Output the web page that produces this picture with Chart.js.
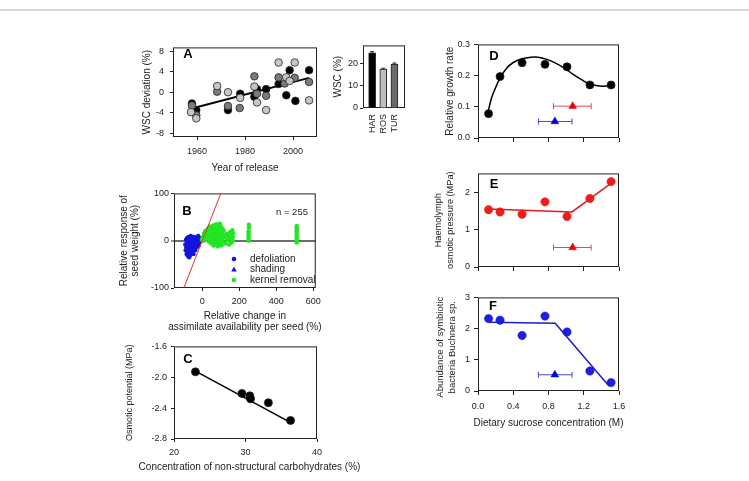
<!DOCTYPE html>
<html><head><meta charset="utf-8">
<script src="https://cdn.jsdelivr.net/npm/chart.js@4.4.1/dist/chart.umd.min.js"></script>
<style>
html,body{margin:0;padding:0;background:#fff;}
body{width:749px;height:481px;position:relative;overflow:hidden;font-family:"Liberation Sans",Arial,sans-serif;}
.topline{position:absolute;left:0;top:9px;width:749px;height:2px;background:#d8d8d8;}
canvas{position:absolute;}
</style></head><body>
<div class="topline"></div>
<canvas id="cA" width="200" height="142" style="left:128px;top:36px"></canvas>
<canvas id="cI" width="80" height="102" style="left:330px;top:38px"></canvas>
<canvas id="cB" width="222" height="150" style="left:104px;top:186px"></canvas>
<canvas id="cC" width="270" height="140" style="left:100px;top:337px"></canvas>
<canvas id="cD" width="203" height="113" style="left:425px;top:35px"></canvas>
<canvas id="cE" width="203" height="114" style="left:425px;top:164px"></canvas>
<canvas id="cF" width="230" height="142" style="left:425px;top:288px"></canvas>
<script>
// ---------------- DATA ----------------
// Panel A: WSC deviation (%) vs year of release, three groups
const aBlack = [[1957.9,-2.2],[1959.7,-3.5],[1972.9,-3.5],[1978.0,-0.3],[1983.9,-0.9],[1985.0,0.6],[1988.8,0.6],[1994.0,1.6],[1997.2,-0.6],[1998.6,4.3],[2001.0,-1.7],[2006.7,4.3]];
const aDark = [[1957.9,-2.6],[1959.7,-4.5],[1968.4,0.1],[1972.9,-2.7],[1977.8,-3.1],[1983.9,3.1],[1985.0,-0.3],[1988.8,-0.7],[1994.0,2.9],[1996.5,1.7],[2000.7,2.8],[2006.7,2.0]];
const aLight = [[1957.5,-3.9],[1959.7,-5.1],[1968.4,1.2],[1972.9,0.0],[1978.0,-1.1],[1983.9,1.1],[1985.0,-2.0],[1988.8,-3.5],[1994.0,5.8],[1997.2,2.9],[1998.6,2.2],[2000.7,5.8],[2006.7,-1.6]];
const aTrend = [[1958.6,-3.1],[2006.7,2.8]];
const aXTicks = [1960,1980,2000];
const aYTicks = [-8,-4,0,4,8];

// Inset: WSC (%) by cultivar
const cultivars = ['HAR','ROS','TUR'];
const wscMean = [24.7,17.4,19.7];
const wscSE = [0.5,0.4,0.4];
const wscTicks = [0,10,20];

// Panel B: relative response of seed weight vs change in assimilate availability
const defoliationPts = [[-92,-8],[-90,-20],[-88,2],[-86,-14],[-85,-28],[-83,-5],[-82,6],[-80,-18],[-79,-32],[-78,-10],[-76,0],[-75,-24],[-74,8],[-72,-15],[-71,-35],[-70,-4],[-68,-22],[-67,4],[-66,-12],[-65,-30],[-63,-7],[-62,10],[-60,-18],[-59,-2],[-58,-26],[-56,-10],[-55,5],[-54,-20],[-52,-14],[-50,0],[-48,-8],[-47,-28],[-45,-16],[-44,8],[-42,-4],[-40,-12],[-38,-20],[-36,2],[-35,-9],[-33,6],[-30,-14],[-28,-2],[-25,-6],[-22,10],[-20,-10],[-18,4],[-15,-4],[-12,6]];
const shadingPts = [[-60,-6],[-45,-12],[-30,2]];
const kernelRemovalPts = [[-2,2],[2,8],[5,0],[8,15],[12,5],[15,20],[18,10],[22,3],[25,18],[28,25],[30,8],[33,14],[36,-2],[38,22],[40,30],[42,6],[45,12],[48,-6],[50,26],[52,18],[55,2],[58,32],[60,-10],[60,10],[62,22],[65,-4],[66,15],[68,28],[70,5],[72,-8],[74,20],[75,35],[77,12],[78,-2],[80,25],[82,8],[84,-12],[85,18],[87,30],[88,3],[90,14],[92,-6],[93,24],[95,36],[96,10],[98,-2],[100,20],[100,30],[102,6],[104,-10],[105,16],[107,26],[108,0],[110,12],[112,-4],[115,22],[120,8],[125,-6],[130,15],[135,2],[140,10],[145,-8],[150,18],[155,4],[158,-4],[160,12],[162,22],[164,0],[165,8],[166,16],[250,0],[250,4],[250,8],[250,12],[250,16],[250,20],[252,28],[252,34],[510,-4],[510,0],[510,4],[510,8],[510,12],[510,16],[510,20],[510,24],[510,28],[510,31]];
const oneToOneLine = [[-100,-100],[100,100]];
const bXTicks = [0,200,400,600];
const bYTicks = [-100,0,100];

// Panel C: osmotic potential vs non-structural carbohydrates
const cPoints = [[23.0,-1.93],[29.5,-2.21],[30.6,-2.24],[30.7,-2.28],[33.2,-2.33],[36.3,-2.56]];
const cFit = [[23.0,-1.92],[36.4,-2.59]];
const cXTicks = [20,30,40];
const cYTicks = [-2.8,-2.4,-2.0,-1.6];

// Panels D-F: dietary sucrose concentration (M)
const sucrose = [0.12,0.25,0.5,0.76,1.01,1.27,1.51];
const growthRate = [0.078,0.197,0.241,0.236,0.228,0.170,0.170];
const growthCurve = [[0.114,0.082],[0.15,0.125],[0.19,0.155],[0.25,0.192],[0.32,0.222],[0.4,0.242],[0.5,0.254],[0.6,0.259],[0.68,0.259],[0.78,0.252],[0.88,0.24],[0.98,0.224],[1.08,0.204],[1.18,0.186],[1.26,0.174],[1.34,0.168],[1.42,0.166],[1.52,0.169]];
const haemolymph = [1.53,1.47,1.41,1.74,1.35,1.83,2.28];
const haemolymphFit = [[0.114,1.55],[1.067,1.47],[1.524,2.26]];
const buchnera = [2.32,2.27,1.78,2.40,1.89,0.64,0.27];
const buchneraFit = [[0.126,2.2],[0.876,2.17],[1.486,0.16]];
const redThreshold = [1.074,0.857,1.284];   // mean, low, high
const blueThreshold = [0.872,0.686,1.067];
const dRedY = 0.102, dBlueY = 0.053, eRedY = 0.52, fBlueY = 0.52;
const sucroseTicks = [0,0.4,0.8,1.2,1.6];

// ---------------- HELPERS ----------------
const FF = '"Liberation Sans", Arial, Helvetica, sans-serif';
Chart.defaults.font.family = FF;
Chart.defaults.color = '#222';
const xy = arr => arr.map(p => ({x: p[0], y: p[1]}));
const zipXY = (xs, ys) => xs.map((x, i) => ({x, y: ys[i]}));
const cv = id => document.getElementById(id);

function lin(o) {
  return {
    type: 'linear', min: o.min, max: o.max, offset: false,
    afterBuildTicks: sc => { sc.ticks = o.ticks.map(v => ({value: v})); },
    afterFit: sc => { if (sc.isHorizontal()) sc.height = o.size; else sc.width = o.size; },
    grid: {display: o.marks !== false, drawOnChartArea: false, drawTicks: true, tickLength: o.tl ?? 3,
           color: '#222', tickColor: '#222', lineWidth: 1, tickWidth: 1, offset: false},
    border: {display: false},
    ticks: {display: o.labels !== false, padding: o.pad ?? 4, autoSkip: false,
            maxRotation: o.rot || 0, minRotation: o.rot || 0, color: '#222',
            font: {size: 9}, callback: o.fmt || (v => String(v))},
    title: {display: false}
  };
}
function opts(pad, scales, deco) {
  return {responsive: false, animation: false, events: [], layout: {padding: pad}, scales,
          plugins: {legend: {display: false}, tooltip: {enabled: false}, deco: deco || {}}};
}
const deco = {
  id: 'deco',
  beforeDatasetsDraw(chart, args, o) {
    const {ctx, chartArea: a, scales} = chart;
    ctx.save();
    ctx.strokeStyle = '#222'; ctx.lineWidth = 1;
    ctx.strokeRect(a.left + 0.5, a.top + 0.5, a.right - a.left - 1, a.bottom - a.top - 1);
    (o.errX || []).forEach(e => {
      const x1 = scales.x.getPixelForValue(e.lo), x2 = scales.x.getPixelForValue(e.hi), y = scales.y.getPixelForValue(e.y);
      ctx.strokeStyle = e.color; ctx.lineWidth = 1;
      ctx.beginPath();
      ctx.moveTo(x1, y); ctx.lineTo(x2, y);
      ctx.moveTo(x1, y - 3); ctx.lineTo(x1, y + 3);
      ctx.moveTo(x2, y - 3); ctx.lineTo(x2, y + 3);
      ctx.stroke();
    });
    ctx.restore();
  },
  afterDatasetsDraw(chart, args, o) {
    const {ctx, scales} = chart;
    ctx.save();
    (o.errY || []).forEach(e => {
      const x = scales.x.getPixelForValue(e.x), y1 = scales.y.getPixelForValue(e.lo), y2 = scales.y.getPixelForValue(e.hi);
      ctx.strokeStyle = '#222'; ctx.lineWidth = 1;
      ctx.beginPath();
      ctx.moveTo(x, y1); ctx.lineTo(x, y2);
      ctx.moveTo(x - 2, y2); ctx.lineTo(x + 2, y2);
      ctx.stroke();
    });
    ctx.restore();
  },
  afterDraw(chart, args, o) {
    const {ctx, chartArea: a} = chart;
    const ox = chart.canvas.offsetLeft, oy = chart.canvas.offsetTop;
    ctx.save();
    ctx.fillStyle = '#222'; ctx.textAlign = 'center'; ctx.textBaseline = 'middle';
    if (o.yTitle) {
      const t = o.yTitle, cy = (a.top + a.bottom) / 2 + (t.dy || 0);
      ctx.font = (t.size || 9.5) + 'px ' + FF;
      t.lines.forEach((s, i) => {
        ctx.save(); ctx.translate(t.x[i] - ox, cy); ctx.rotate(-Math.PI / 2);
        ctx.fillText(s, 0, 0); ctx.restore();
      });
    }
    if (o.xTitle) {
      const t = o.xTitle, cx = (a.left + a.right) / 2 + (t.dx || 0);
      ctx.font = (t.size || 10) + 'px ' + FF;
      t.lines.forEach((s, i) => ctx.fillText(s, cx, t.y[i] - oy));
    }
    (o.texts || []).forEach(t => {
      ctx.font = t.font; ctx.fillStyle = t.color || '#000';
      ctx.textAlign = t.align || 'left'; ctx.textBaseline = t.base || 'middle';
      ctx.fillText(t.text, t.x - ox, t.y - oy);
    });
    (o.legend || []).forEach(l => {
      const mx = l.mx - ox, my = l.y - oy;
      ctx.fillStyle = l.color;
      ctx.beginPath();
      if (l.shape === 'triangle') {
        ctx.moveTo(mx, my - 3); ctx.lineTo(mx + 2.8, my + 2); ctx.lineTo(mx - 2.8, my + 2); ctx.closePath();
      } else {
        ctx.arc(mx, my, 2.3, 0, Math.PI * 2);
      }
      ctx.fill();
      ctx.font = '10px ' + FF;
      ctx.fillStyle = '#222'; ctx.textAlign = 'left'; ctx.textBaseline = 'middle';
      ctx.fillText(l.label, l.tx - ox, my);
    });
    ctx.restore();
  }
};
Chart.register(deco);
const letter = (t, x, y) => ({text: t, x, y, font: 'bold 13px ' + FF, color: '#000', align: 'center', base: 'alphabetic'});
const pt = (data, color, r, extra) => Object.assign({data, backgroundColor: color, borderColor: '#222', borderWidth: 0.8, pointRadius: r}, extra || {});
const fmt1 = v => v.toFixed(1);

// ---------------- PANEL A ----------------
new Chart(cv('cA'), {
  type: 'scatter',
  data: {datasets: [
    pt(xy(aLight), '#c6c6c6', 3.8),
    pt(xy(aDark), '#7a7a7a', 3.8),
    pt(xy(aBlack), '#000000', 3.8),
    {data: xy(aTrend), showLine: true, borderColor: '#000', borderWidth: 2, pointRadius: 0}
  ]},
  options: opts({top: 7, right: 11, left: 0, bottom: 0}, {
    x: lin({min: 1950, max: 2010, ticks: aXTicks, size: 41, tl: 3, pad: 6}),
    y: lin({min: -8.75, max: 8.75, ticks: aYTicks, size: 45, tl: 3, pad: 6})
  }, {texts: [letter('A', 188, 58)],
      yTitle: {lines: ['WSC deviation (%)'], x: [147], size: 10},
      xTitle: {lines: ['Year of release'], y: [168]}})
});

// ---------------- INSET ----------------
new Chart(cv('cI'), {
  type: 'bar',
  data: {datasets: [{data: cultivars.map((c, i) => ({x: i, y: wscMean[i]})),
    backgroundColor: ['#000000', '#bebebe', '#6b6b6b'], borderColor: '#222', borderWidth: 1, barThickness: 7}]},
  options: opts({top: 6, right: 5, left: 0, bottom: 0}, {
    x: lin({min: -0.82, max: 2.95, ticks: [0, 1, 2], size: 32, marks: false, pad: 3, rot: 90, fmt: v => cultivars[v]}),
    y: lin({min: 0, max: 28, ticks: wscTicks, size: 33, tl: 3, pad: 2})
  }, {errY: cultivars.map((c, i) => ({x: i, lo: wscMean[i] - wscSE[i], hi: wscMean[i] + wscSE[i]})),
      yTitle: {lines: ['WSC (%)'], x: [338.5], size: 10}})
});

// ---------------- PANEL B ----------------
const bY = lin({min: -100, max: 100, ticks: bYTicks, size: 70, tl: 3, pad: 2});
bY.z = 1;
bY.grid.drawOnChartArea = true;
bY.grid.color = c => (c.tick && c.tick.value === 0) ? '#6e6e6e' : 'rgba(0,0,0,0)';
bY.grid.lineWidth = c => (c.tick && c.tick.value === 0) ? 2 : 1;
new Chart(cv('cB'), {
  type: 'scatter',
  data: {datasets: [
    {data: xy(oneToOneLine), showLine: true, borderColor: '#e23030', borderWidth: 1, pointRadius: 0},
    {data: xy(kernelRemovalPts), backgroundColor: '#22e622', borderWidth: 0, pointRadius: 2.2},
    {data: xy(defoliationPts), backgroundColor: '#1414dc', borderWidth: 0, pointRadius: 2.2},
    {data: xy(shadingPts), pointStyle: 'triangle', backgroundColor: '#1414dc', borderWidth: 0, pointRadius: 2.6}
  ]},
  options: opts({top: 7, right: 9, left: 0, bottom: 0}, {
    x: lin({min: -153, max: 613, ticks: bXTicks, size: 48, tl: 3, pad: 5}),
    y: bY
  }, {
    yTitle: {lines: ['Relative response of', 'seed weight (%)'], x: [124, 135.5], size: 10},
    xTitle: {lines: ['Relative change in', 'assimilate availability per seed (%)'], y: [316, 327.5]},
    texts: [letter('B', 187, 215), {text: 'n = 255', x: 276, y: 212, font: '9.5px ' + FF, color: '#222'}],
    legend: [
      {shape: 'circle', color: '#1414dc', label: 'defoliation', mx: 234, tx: 250, y: 259},
      {shape: 'triangle', color: '#1414dc', label: 'shading', mx: 234, tx: 250, y: 269.5},
      {shape: 'circle', color: '#22e622', label: 'kernel removal', mx: 234, tx: 250, y: 280}
    ]
  })
});

// ---------------- PANEL C ----------------
new Chart(cv('cC'), {
  type: 'scatter',
  data: {datasets: [
    {data: xy(cFit), showLine: true, borderColor: '#000', borderWidth: 1.5, pointRadius: 0},
    pt(xy(cPoints), '#000000', 4)
  ]},
  options: opts({top: 7, right: 53, left: 0, bottom: 0}, {
    x: lin({min: 20, max: 40, ticks: cXTicks, size: 38, tl: 3, pad: 5}),
    y: lin({min: -2.8, max: -1.6, ticks: cYTicks, size: 74, tl: 3, pad: 4, fmt: fmt1})
  }, {texts: [letter('C', 188, 362.5)],
      yTitle: {lines: ['Osmotic potential (MPa)'], x: [130], size: 9},
      xTitle: {lines: ['Concentration of non-structural carbohydrates (%)'], y: [467], dx: 4}})
});

// ---------------- PANEL D ----------------
new Chart(cv('cD'), {
  type: 'scatter',
  data: {datasets: [
    {data: xy(growthCurve), showLine: true, borderColor: '#000', borderWidth: 1.5, pointRadius: 0, tension: 0.4},
    pt(zipXY(sucrose, growthRate), '#000000', 4),
    {data: [{x: redThreshold[0], y: dRedY}], pointStyle: 'triangle', backgroundColor: '#ee0000', borderColor: '#ee0000', borderWidth: 0.5, pointRadius: 4.5},
    {data: [{x: blueThreshold[0], y: dBlueY}], pointStyle: 'triangle', backgroundColor: '#0000dd', borderColor: '#0000dd', borderWidth: 0.5, pointRadius: 4.5}
  ]},
  options: opts({top: 7, right: 9, left: 0, bottom: 0}, {
    x: lin({min: 0, max: 1.6, ticks: sucroseTicks, size: 10, tl: 4, labels: false}),
    y: lin({min: 0, max: 0.3, ticks: [0, 0.1, 0.2, 0.3], size: 53, tl: 4, pad: 4, fmt: fmt1})
  }, {
    texts: [letter('D', 494, 60)],
    yTitle: {lines: ['Relative growth rate'], x: [450], size: 10},
    errX: [{y: dRedY, lo: redThreshold[1], hi: redThreshold[2], color: '#e24a4a'},
           {y: dBlueY, lo: blueThreshold[1], hi: blueThreshold[2], color: '#4646d2'}]
  })
});

// ---------------- PANEL E ----------------
new Chart(cv('cE'), {
  type: 'scatter',
  data: {datasets: [
    {data: xy(haemolymphFit), showLine: true, borderColor: '#e51a1a', borderWidth: 1.5, pointRadius: 0},
    {data: zipXY(sucrose, haemolymph), backgroundColor: '#ee1c1c', borderColor: '#ee1c1c', borderWidth: 0.5, pointRadius: 4.2},
    {data: [{x: redThreshold[0], y: eRedY}], pointStyle: 'triangle', backgroundColor: '#ee0000', borderColor: '#ee0000', borderWidth: 0.5, pointRadius: 4.5}
  ]},
  options: opts({top: 7, right: 9, left: 0, bottom: 0}, {
    x: lin({min: 0, max: 1.6, ticks: sucroseTicks, size: 11, tl: 4, labels: false}),
    y: lin({min: 0, max: 2.5, ticks: [0, 1, 2], size: 53, tl: 4, pad: 4})
  }, {
    texts: [letter('E', 494, 187.5)],
    yTitle: {lines: ['Haemolymph', 'osmotic pressure (MPa)'], x: [438.3, 450.7], size: 9.2},
    errX: [{y: eRedY, lo: redThreshold[1], hi: redThreshold[2], color: '#e24a4a'}]
  })
});

// ---------------- PANEL F ----------------
new Chart(cv('cF'), {
  type: 'scatter',
  data: {datasets: [
    {data: xy(buchneraFit), showLine: true, borderColor: '#1c1cc8', borderWidth: 1.5, pointRadius: 0},
    {data: zipXY(sucrose, buchnera), backgroundColor: '#1f1fe0', borderColor: '#1f1fe0', borderWidth: 0.5, pointRadius: 4.2},
    {data: [{x: blueThreshold[0], y: fBlueY}], pointStyle: 'triangle', backgroundColor: '#0000dd', borderColor: '#0000dd', borderWidth: 0.5, pointRadius: 4.5}
  ]},
  options: opts({top: 7, right: 36, left: 0, bottom: 0}, {
    x: lin({min: 0, max: 1.6, ticks: sucroseTicks, size: 39, tl: 4, pad: 6, fmt: fmt1}),
    y: lin({min: 0, max: 3, ticks: [0, 1, 2, 3], size: 53, tl: 4, pad: 4})
  }, {
    texts: [letter('F', 493, 310)],
    yTitle: {lines: ['Abundance of symbiotic', 'bacteria Buchnera sp.'], x: [440.7, 452.3], dy: 3},
    xTitle: {lines: ['Dietary sucrose concentration (M)'], y: [423]},
    errX: [{y: fBlueY, lo: blueThreshold[1], hi: blueThreshold[2], color: '#4646d2'}]
  })
});
</script>
</body></html>
